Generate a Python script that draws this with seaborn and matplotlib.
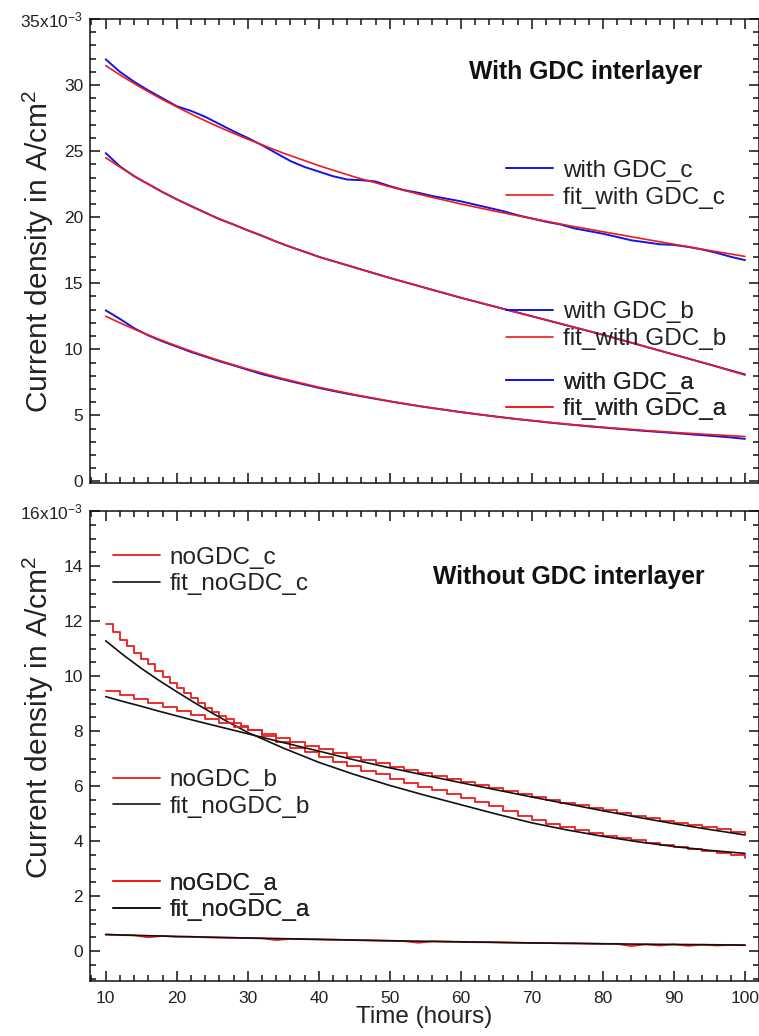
import matplotlib
matplotlib.use("Agg")
import matplotlib.pyplot as plt
from matplotlib.ticker import MultipleLocator, FixedLocator, FixedFormatter
import seaborn as sns
import pandas as pd

# ---------------------------------------------------------------- data
# current densities in units of 1e-3 A/cm^2, time in hours
hours_meas = list(range(10, 101, 2))
hours_no_gdc_c = list(range(10, 30)) + list(range(30, 101, 2))
hours_fit = [10, 12.5, 15, 17.5, 20, 22.5, 25, 27.5, 30, 35, 40, 45, 50,
             55, 60, 65, 70, 75, 80, 85, 90, 95, 100]

# with GDC interlayer: measured
with_gdc_c = [31.95, 31.0, 30.25, 29.6, 29.0, 28.4, 28.05, 27.6, 27.05, 26.5,
              26.0, 25.45, 24.85, 24.25, 23.8, 23.45, 23.1, 22.85, 22.8, 22.7,
              22.35, 22.05, 21.85, 21.6, 21.4, 21.2, 20.95, 20.7, 20.45, 20.15,
              19.9, 19.65, 19.45, 19.15, 18.95, 18.75, 18.5, 18.25, 18.1, 17.95,
              17.9, 17.75, 17.55, 17.3, 17.0, 16.75]
with_gdc_b = [24.85, 23.85, 23.1, 22.5, 21.9, 21.35, 20.85, 20.35, 19.85, 19.45,
              19.0, 18.6, 18.15, 17.75, 17.38, 17.0, 16.68, 16.36, 16.04, 15.72,
              15.4, 15.1, 14.8, 14.5, 14.2, 13.9, 13.62, 13.34, 13.06, 12.78,
              12.5, 12.22, 11.94, 11.66, 11.38, 11.1, 10.8, 10.5, 10.2, 9.9,
              9.6, 9.3, 9.0, 8.7, 8.4, 8.1]
with_gdc_a = [12.95, 12.3, 11.6, 11.05, 10.6, 10.2, 9.8, 9.45, 9.1, 8.78,
              8.45, 8.12, 7.85, 7.58, 7.33, 7.08, 6.85, 6.64, 6.44, 6.25,
              6.06, 5.88, 5.71, 5.55, 5.4, 5.25, 5.11, 4.97, 4.84, 4.71,
              4.6, 4.48, 4.37, 4.27, 4.17, 4.08, 3.99, 3.9, 3.82, 3.74,
              3.66, 3.58, 3.5, 3.42, 3.33, 3.22]

# with GDC interlayer: fits
fit_with_gdc_c = [31.47, 30.6, 29.8, 29.05, 28.35, 27.68, 27.05, 26.46, 25.9,
                  24.85, 23.9, 23.05, 22.3, 21.62, 21.0, 20.43, 19.9, 19.38,
                  18.9, 18.42, 17.95, 17.48, 17.03]
fit_with_gdc_b = [24.5, 23.62, 22.8, 22.05, 21.35, 20.7, 20.1, 19.54, 19.0,
                  17.95, 17.0, 16.2, 15.4, 14.65, 13.9, 13.2, 12.5, 11.8,
                  11.1, 10.35, 9.6, 8.85, 8.05]
fit_with_gdc_a = [12.5, 11.88, 11.3, 10.76, 10.25, 9.77, 9.32, 8.9, 8.5,
                  7.77, 7.13, 6.57, 6.07, 5.63, 5.24, 4.9, 4.6, 4.33,
                  4.1, 3.89, 3.71, 3.55, 3.4]

# without GDC interlayer: measured
no_gdc_c = [11.90, 11.60, 11.32, 11.08, 10.85, 10.63, 10.42, 10.20, 9.98, 9.76,
            9.55, 9.38, 9.20, 9.02, 8.85, 8.70, 8.55, 8.42, 8.30, 8.17,
            8.05, 7.82, 7.60, 7.40, 7.22, 7.05, 6.88, 6.72, 6.56, 6.42,
            6.27, 6.12, 5.98, 5.84, 5.70, 5.56, 5.42, 5.26, 5.08, 4.92,
            4.76, 4.63, 4.52, 4.41, 4.30, 4.20, 4.11, 4.02, 3.94, 3.86,
            3.79, 3.72, 3.64, 3.56, 3.48, 3.40]
no_gdc_b = [9.47, 9.30, 9.15, 9.02, 8.88, 8.72, 8.58, 8.45, 8.30, 8.15,
            8.02, 7.88, 7.74, 7.60, 7.46, 7.34, 7.20, 7.07, 6.94, 6.82,
            6.70, 6.58, 6.48, 6.36, 6.25, 6.14, 6.04, 5.92, 5.82, 5.70,
            5.60, 5.50, 5.40, 5.30, 5.20, 5.12, 5.02, 4.92, 4.84, 4.74,
            4.66, 4.58, 4.50, 4.42, 4.34, 4.25]
no_gdc_a = [0.60, 0.58, 0.57, 0.50, 0.55, 0.52, 0.52, 0.50, 0.49, 0.48,
            0.47, 0.46, 0.40, 0.44, 0.43, 0.42, 0.41, 0.40, 0.39, 0.38,
            0.37, 0.36, 0.30, 0.35, 0.34, 0.33, 0.32, 0.32, 0.31, 0.30,
            0.29, 0.29, 0.28, 0.28, 0.27, 0.26, 0.26, 0.18, 0.24, 0.20,
            0.24, 0.19, 0.23, 0.20, 0.22, 0.21]

# without GDC interlayer: fits
fit_no_gdc_c = [11.28, 10.76, 10.28, 9.84, 9.43, 9.03, 8.65, 8.29, 7.95,
                7.38, 6.86, 6.42, 6.02, 5.66, 5.32, 4.98, 4.66, 4.40,
                4.17, 3.97, 3.80, 3.66, 3.55]
fit_no_gdc_b = [9.25, 9.07, 8.9, 8.72, 8.55, 8.38, 8.22, 8.06, 7.90,
                7.58, 7.27, 6.95, 6.66, 6.39, 6.12, 5.86, 5.60, 5.35,
                5.10, 4.86, 4.63, 4.42, 4.22]
fit_no_gdc_a = [0.60, 0.582, 0.565, 0.547, 0.53, 0.515, 0.50, 0.487, 0.475,
                0.45, 0.425, 0.40, 0.375, 0.355, 0.335, 0.315, 0.295, 0.28,
                0.265, 0.25, 0.24, 0.23, 0.215]

# axis ticks and labels
top_yticks = [0, 5, 10, 15, 20, 25, 30, 35]
top_yticklabels = ["0", "5", "10", "15", "20", "25", "30", r"35x10$^{-3}$"]
bot_yticks = [0, 2, 4, 6, 8, 10, 12, 14, 16]
bot_yticklabels = ["0", "2", "4", "6", "8", "10", "12", "14", r"16x10$^{-3}$"]
xticks = [10, 20, 30, 40, 50, 60, 70, 80, 90, 100]

# ---------------------------------------------------------------- style
sns.set_style("ticks")
plt.rcParams["font.family"] = ["Liberation Sans", "DejaVu Sans"]
plt.rcParams["mathtext.fontset"] = "custom"
plt.rcParams["mathtext.rm"] = "Liberation Sans"
plt.rcParams["mathtext.default"] = "regular"

BLUE = "#1414e6"
RED = "#ec1c1c"
BLACK = "#111111"
TEXT = "#222222"
TICK_FS = 12.5
LEG_FS = 17.5
XLABEL_FS = 17.5
YLABEL_FS = 21.5
TITLE_FS = 17.8

W, H = 759, 1036
fig = plt.figure(figsize=(W / 100, H / 100), dpi=100)
fig.patch.set_facecolor("white")

left_px, right_px = 89.5, 758.5
ax_top = fig.add_axes([left_px / W, 1 - 483 / H, (right_px - left_px) / W, (483 - 19) / H])
ax_bot = fig.add_axes([left_px / W, 1 - 981 / H, (right_px - left_px) / W, (981 - 511) / H])


def frame(ax, ylim, yticks, yticklabels, yminor, show_x):
    ax.set_facecolor("white")
    ax.set_xlim(7.72, 101.9)
    ax.set_ylim(*ylim)
    ax.xaxis.set_major_locator(FixedLocator(xticks))
    ax.xaxis.set_minor_locator(MultipleLocator(2))
    ax.yaxis.set_major_locator(FixedLocator(yticks))
    ax.yaxis.set_major_formatter(FixedFormatter(yticklabels))
    ax.yaxis.set_minor_locator(MultipleLocator(yminor))
    for s in ax.spines.values():
        s.set_visible(True)
        s.set_linewidth(1.1)
        s.set_color(BLACK)
    ax.tick_params(which="both", direction="in", top=True, right=True,
                   width=1.1, color=BLACK, labelsize=TICK_FS, labelcolor=TEXT)
    ax.tick_params(which="major", length=7.5)
    ax.tick_params(which="minor", length=4.3)
    ax.tick_params(axis="y", pad=4.5)
    ax.tick_params(axis="x", pad=7.5, labelbottom=show_x)
    ax.grid(False)


def draw(ax, x, y, color, lw, step=False):
    df = pd.DataFrame({"t": x, "j": y})
    kw = {"drawstyle": "steps-post"} if step else {}
    sns.lineplot(data=df, x="t", y="j", ax=ax, color=color, lw=lw,
                 estimator=None, sort=False, legend=False, **kw)
    return ax.lines[-1]


def legend(ax, handles, labels, x, y):
    lg = ax.legend(handles, labels, loc="center left", bbox_to_anchor=(x, y),
                   frameon=False, fontsize=LEG_FS, handlelength=1.93,
                   handletextpad=0.41, labelspacing=0.2, borderpad=0,
                   borderaxespad=0)
    for t in lg.get_texts():
        t.set_color(TEXT)
    ax.add_artist(lg)


# ---------------------------------------------------------------- top panel
frame(ax_top, (-0.12, 35), top_yticks, top_yticklabels, 1, False)
series_top = [
    (with_gdc_c, fit_with_gdc_c, "with GDC_c", "fit_with GDC_c", 0.644),
    (with_gdc_b, fit_with_gdc_b, "with GDC_b", "fit_with GDC_b", 0.339),
    (with_gdc_a, fit_with_gdc_a, "with GDC_a", "fit_with GDC_a", 0.1875),
]
for meas, fit, lab_m, lab_f, ly in series_top:
    hm = draw(ax_top, hours_meas, meas, BLUE, 1.4)
    hf = draw(ax_top, hours_fit, fit, RED, 1.2)
    legend(ax_top, [hm, hf], [lab_m, lab_f], 0.6226, ly)

ax_top.text(0.742, 0.886, "With GDC interlayer", transform=ax_top.transAxes,
            ha="center", va="center", fontsize=TITLE_FS, fontweight="bold", color="#111111")
ax_top.set_xlabel("")
ax_top.set_ylabel("Current density in A/cm$^{2}$", fontsize=YLABEL_FS, color=TEXT)
ax_top.yaxis.set_label_coords(-0.050, 0.499)

# ---------------------------------------------------------------- bottom panel
frame(ax_bot, (-1.09, 16), bot_yticks, bot_yticklabels, 0.5, True)
series_bot = [
    (hours_no_gdc_c, no_gdc_c, fit_no_gdc_c, "noGDC_c", "fit_noGDC_c", 0.8723, True),
    (hours_meas, no_gdc_b, fit_no_gdc_b, "noGDC_b", "fit_noGDC_b", 0.399, True),
    (hours_meas, no_gdc_a, fit_no_gdc_a, "noGDC_a", "fit_noGDC_a", 0.1787, False),
]
for t_meas, meas, fit, lab_m, lab_f, ly, stepped in series_bot:
    hm = draw(ax_bot, t_meas, meas, RED, 1.3, step=stepped)
    hf = draw(ax_bot, hours_fit, fit, BLACK, 1.2)
    legend(ax_bot, [hm, hf], [lab_m, lab_f], 0.0347, ly)

ax_bot.text(0.717, 0.8596, "Without GDC interlayer", transform=ax_bot.transAxes,
            ha="center", va="center", fontsize=TITLE_FS, fontweight="bold", color="#111111")
ax_bot.set_xlabel("Time (hours)", fontsize=XLABEL_FS, color=TEXT)
ax_bot.xaxis.set_label_coords(0.5, -0.053)
ax_bot.set_ylabel("Current density in A/cm$^{2}$", fontsize=YLABEL_FS, color=TEXT)
ax_bot.yaxis.set_label_coords(-0.050, 0.56)

fig.savefig("out.png", dpi=100, facecolor="white")
